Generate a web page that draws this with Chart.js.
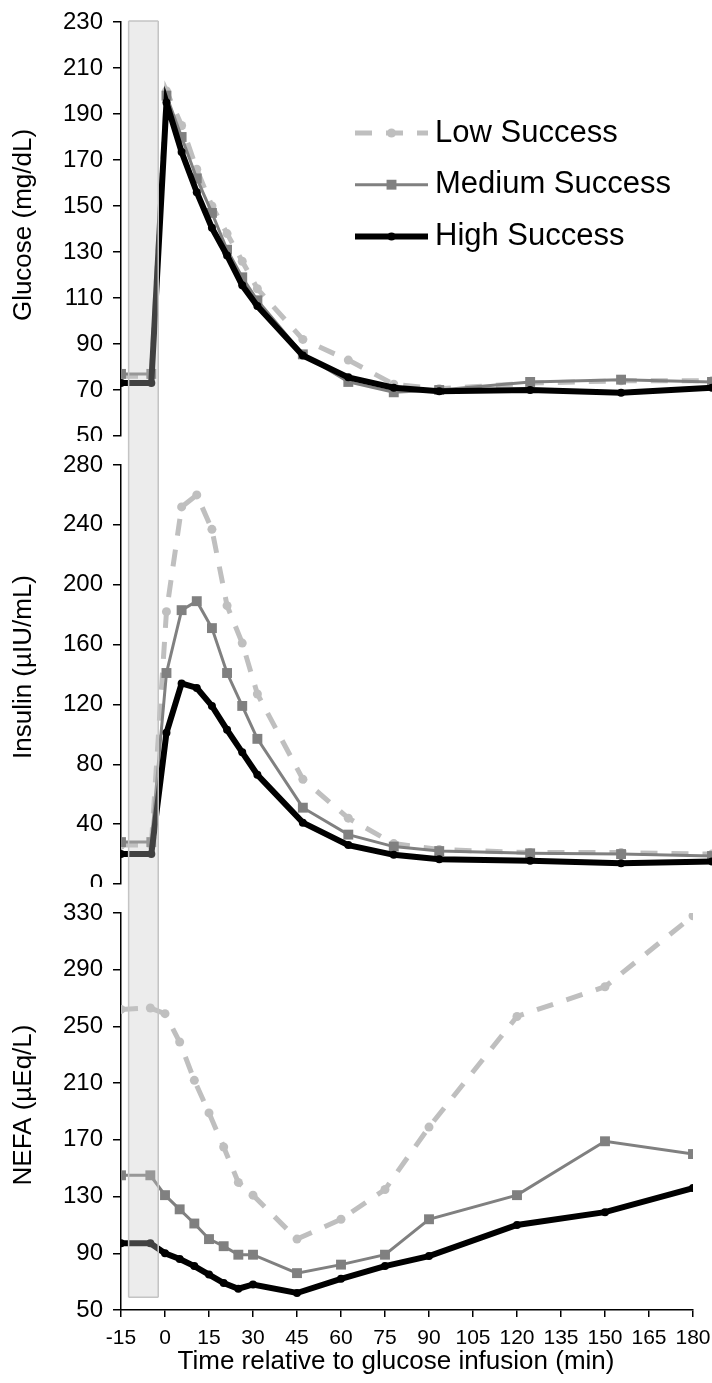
<!DOCTYPE html>
<html>
<head>
<meta charset="utf-8">
<script src="https://cdn.jsdelivr.net/npm/chart.js@4.4.1/dist/chart.umd.min.js"></script>
<style>
  html, body { margin: 0; padding: 0; background: #fff; }
  body { width: 712px; height: 1383px; position: relative; overflow: hidden; }
  .panel { position: absolute; left: 0; width: 712px; overflow: hidden; background: #fff; }
  .panel canvas { display: block; }
  #glucoseBox { top: 0; height: 441px; }
  #insulinBox { top: 441px; height: 446px; }
  #nefaBox { top: 887px; height: 496px; }
</style>
</head>
<body>
<div class="panel" id="glucoseBox"><canvas id="glucoseChart" width="712" height="470"></canvas></div>
<div class="panel" id="insulinBox"><canvas id="insulinChart" width="712" height="470"></canvas></div>
<div class="panel" id="nefaBox"><canvas id="nefaChart" width="712" height="496"></canvas></div>
<script>
// --- DATA ---
const TIMES = [-15, -5, 0, 5, 10, 15, 20, 25, 30, 45, 60, 75, 90, 120, 150, 180];
const SERIES_NAMES = ['Low Success', 'Medium Success', 'High Success'];

const glucoseLow    = [76, 76, 200, 185, 166, 150, 138, 126, 114, 92, 83, 72.5, 70.5, 73, 74, 74];
const glucoseMedium = [77, 77, 198, 180, 162, 147, 131, 119, 109, 85.5, 73.5, 69, 70, 73.5, 74.5, 73.5];
const glucoseHigh   = [73, 73, 195, 173.5, 156, 140.5, 128.5, 115.5, 106.5, 85, 75.5, 71, 69.5, 70, 68.8, 71];

const insulinLow    = [26, 26, 182, 252, 260, 237, 186, 161, 127, 70, 44, 27, 23, 21, 21, 20];
const insulinMedium = [28, 28, 141, 183, 189, 171, 141, 119, 97, 51, 33, 25, 22, 20.5, 20, 18.7];
const insulinHigh   = [20, 20, 101, 134, 131, 119, 103, 88, 73, 41, 26, 19.5, 16.5, 15.6, 13.8, 15];

const nefaLow    = [262, 263, 259, 239, 212, 189, 165, 140, 131, 100, 114, 135, 179, 257, 278, 328];
const nefaMedium = [145, 145, 131, 121, 111, 100, 95, 89, 89, 76, 82, 89, 114, 131, 169, 160];
const nefaHigh   = [97, 97, 90, 86, 81, 75, 69, 65, 68, 62, 72, 81, 88, 110, 119, 136];

const GLUCOSE_TICKS = { min: 50, max: 230, step: 20 };
const INSULIN_TICKS = { min: 0, max: 280, step: 40 };
const NEFA_TICKS = { min: 50, max: 330, step: 40 };
const TIME_TICKS = { min: -15, max: 180, step: 15 };

const TITLES = {
    glucose: 'Glucose (mg/dL)',
    insulin: 'Insulin (µIU/mL)',
    nefa: 'NEFA (µEq/L)',
    time: 'Time relative to glucose infusion (min)'
};

// sampling window shown as the grey band (minutes), bottom edge in NEFA units
const BAND_X = [-12.4, -2.3];
const BAND_NEFA_BOTTOM = 59;

// --- STYLE ---
const FONT = '"Liberation Sans", Arial, Helvetica, sans-serif';
Chart.defaults.font.family = FONT;
Chart.defaults.color = '#000';

const STYLES = [
    { borderColor: '#bfbfbf', pointBackgroundColor: '#bfbfbf', pointBorderColor: '#bfbfbf',
      borderWidth: 5, borderDash: [17, 14], pointStyle: 'circle', pointRadius: 4.5, order: 3 },
    { borderColor: '#808080', pointBackgroundColor: '#808080', pointBorderColor: '#808080',
      borderWidth: 3, pointStyle: 'rect', pointRadius: 7, order: 2 },
    { borderColor: '#000000', pointBackgroundColor: '#000000', pointBorderColor: '#000000',
      borderWidth: 6, pointStyle: 'circle', pointRadius: 4, order: 1 }
];

const AXIS_LEFT = 121;
let nefaChart = null;

function buildDatasets(lists) {
    return lists.map((values, i) => Object.assign({
        label: SERIES_NAMES[i],
        data: TIMES.map((t, j) => ({ x: t, y: values[j] })),
        tension: 0,
        fill: false,
        pointBorderWidth: 0,
        borderCapStyle: 'butt'
    }, STYLES[i]));
}

function yAxis(range) {
    return {
        type: 'linear',
        min: range.min,
        max: range.max,
        ticks: { stepSize: range.step, color: '#000', font: { size: 24, lineHeight: 1 }, padding: 10 },
        grid: { drawOnChartArea: false, drawTicks: true, tickLength: 8, color: '#000', lineWidth: 1.5 },
        border: { display: true, color: '#000', width: 1.5 },
        afterFit: s => { s.width = AXIS_LEFT; }
    };
}

// grey band, drawn over the lines (semi transparent) like the original
const bandPlugin = {
    id: 'band',
    afterDatasetsDraw(chart, args, o) {
        const xs = o.ownScale ? chart.scales.x : nefaChart.scales.x;
        const x0 = xs.getPixelForValue(BAND_X[0]);
        const x1 = xs.getPixelForValue(BAND_X[1]);
        const top = o.top === 'area' ? chart.chartArea.top - 1 : 0;
        const bottom = o.bottom === 'nefa' ? chart.scales.y.getPixelForValue(BAND_NEFA_BOTTOM) : chart.height;
        const ctx = chart.ctx;
        ctx.save();
        ctx.fillStyle = 'rgba(197,197,197,0.33)';
        ctx.fillRect(x0, top, x1 - x0, bottom - top);
        ctx.strokeStyle = '#c4c4c4';
        ctx.lineWidth = 1.5;
        ctx.beginPath();
        ctx.moveTo(x0, top); ctx.lineTo(x0, bottom);
        ctx.moveTo(x1, top); ctx.lineTo(x1, bottom);
        if (o.top === 'area') { ctx.moveTo(x0, top); ctx.lineTo(x1, top); }
        if (o.bottom === 'nefa') { ctx.moveTo(x0, bottom); ctx.lineTo(x1, bottom); }
        ctx.stroke();
        ctx.restore();
    }
};

// axis captions placed where the original has them
const captionPlugin = {
    id: 'captions',
    afterDraw(chart, args, o) {
        const ctx = chart.ctx;
        ctx.save();
        ctx.fillStyle = '#000';
        ctx.font = '26px ' + FONT;
        ctx.textAlign = 'center';
        ctx.textBaseline = 'middle';
        o.items.forEach(c => {
            ctx.save();
            ctx.translate(c.x, c.y);
            if (c.vertical) ctx.rotate(-Math.PI / 2);
            ctx.fillText(c.text, 0, 0);
            ctx.restore();
        });
        ctx.restore();
    }
};

// legend drawn inside the glucose panel
const keyPlugin = {
    id: 'seriesKey',
    afterDraw(chart, args, o) {
        const ctx = chart.ctx;
        chart.data.datasets.forEach((ds, i) => {
            const y = o.y + i * o.row;
            ctx.save();
            ctx.strokeStyle = ds.borderColor;
            ctx.lineWidth = ds.borderWidth;
            ctx.setLineDash(ds.borderDash || []);
            ctx.beginPath();
            ctx.moveTo(o.x, y);
            ctx.lineTo(o.x + o.len, y);
            ctx.stroke();
            ctx.setLineDash([]);
            ctx.fillStyle = ds.pointBackgroundColor;
            ctx.strokeStyle = ds.pointBorderColor;
            Chart.helpers.drawPoint(ctx, { pointStyle: ds.pointStyle, radius: ds.pointRadius, borderWidth: 0, rotation: 0 }, o.x + o.len / 2, y);
            ctx.fillStyle = '#000';
            ctx.font = '31px ' + FONT;
            ctx.textAlign = 'left';
            ctx.textBaseline = 'middle';
            ctx.fillText(ds.label, o.x + o.len + o.gap, y);
            ctx.restore();
        });
    }
};

function baseOptions(padding) {
    return {
        responsive: false,
        animation: false,
        devicePixelRatio: 1,
        events: [],
        layout: { padding, autoPadding: false },
        plugins: { legend: { display: false }, tooltip: { enabled: false } }
    };
}

// --- NEFA (bottom, carries the time axis) ---
const nefaOpts = baseOptions({ top: 26, right: 0, bottom: 0, left: 0 });
nefaOpts.scales = {
    x: {
        type: 'linear', min: TIME_TICKS.min, max: TIME_TICKS.max,
        ticks: { stepSize: TIME_TICKS.step, color: '#000', font: { size: 21, lineHeight: 1 }, padding: 11, maxRotation: 0, autoSkip: false },
        grid: { drawOnChartArea: false, drawTicks: true, tickLength: 7, color: '#000', lineWidth: 1.5 },
        border: { display: true, color: '#000', width: 1.5 },
        afterFit: s => { s.height = 73; s.paddingLeft = 0; s.paddingRight = 19; }
    },
    y: yAxis(NEFA_TICKS)
};
nefaOpts.plugins.band = { ownScale: true, top: 'canvas', bottom: 'nefa' };
nefaOpts.plugins.captions = { items: [
    { text: TITLES.nefa, x: 24, y: 218, vertical: true },
    { text: TITLES.time, x: 396, y: 475 }
] };
nefaChart = new Chart(document.getElementById('nefaChart'), {
    type: 'line',
    data: { datasets: buildDatasets([nefaLow, nefaMedium, nefaHigh]) },
    options: nefaOpts,
    plugins: [bandPlugin, captionPlugin]
});

// --- Insulin (middle) ---
const insulinOpts = baseOptions({ top: 24, right: 0, bottom: 27, left: 0 });
insulinOpts.scales = {
    x: { type: 'linear', min: TIME_TICKS.min, max: TIME_TICKS.max, display: false },
    y: yAxis(INSULIN_TICKS)
};
insulinOpts.plugins.band = { ownScale: false, top: 'canvas', bottom: 'canvas' };
insulinOpts.plugins.captions = { items: [{ text: TITLES.insulin, x: 24, y: 226, vertical: true }] };
new Chart(document.getElementById('insulinChart'), {
    type: 'line',
    data: { datasets: buildDatasets([insulinLow, insulinMedium, insulinHigh]) },
    options: insulinOpts,
    plugins: [bandPlugin, captionPlugin]
});

// --- Glucose (top, with the legend) ---
const glucoseOpts = baseOptions({ top: 16, right: 0, bottom: 34, left: 0 });
glucoseOpts.scales = {
    x: { type: 'linear', min: TIME_TICKS.min, max: TIME_TICKS.max, display: false },
    y: yAxis(GLUCOSE_TICKS)
};
glucoseOpts.plugins.band = { ownScale: false, top: 'area', bottom: 'canvas' };
glucoseOpts.plugins.captions = { items: [{ text: TITLES.glucose, x: 24, y: 225, vertical: true }] };
glucoseOpts.plugins.seriesKey = { x: 355, y: 133, row: 51.7, len: 73, gap: 7 };
new Chart(document.getElementById('glucoseChart'), {
    type: 'line',
    data: { datasets: buildDatasets([glucoseLow, glucoseMedium, glucoseHigh]) },
    options: glucoseOpts,
    plugins: [bandPlugin, captionPlugin, keyPlugin]
});
</script>
</body>
</html>
